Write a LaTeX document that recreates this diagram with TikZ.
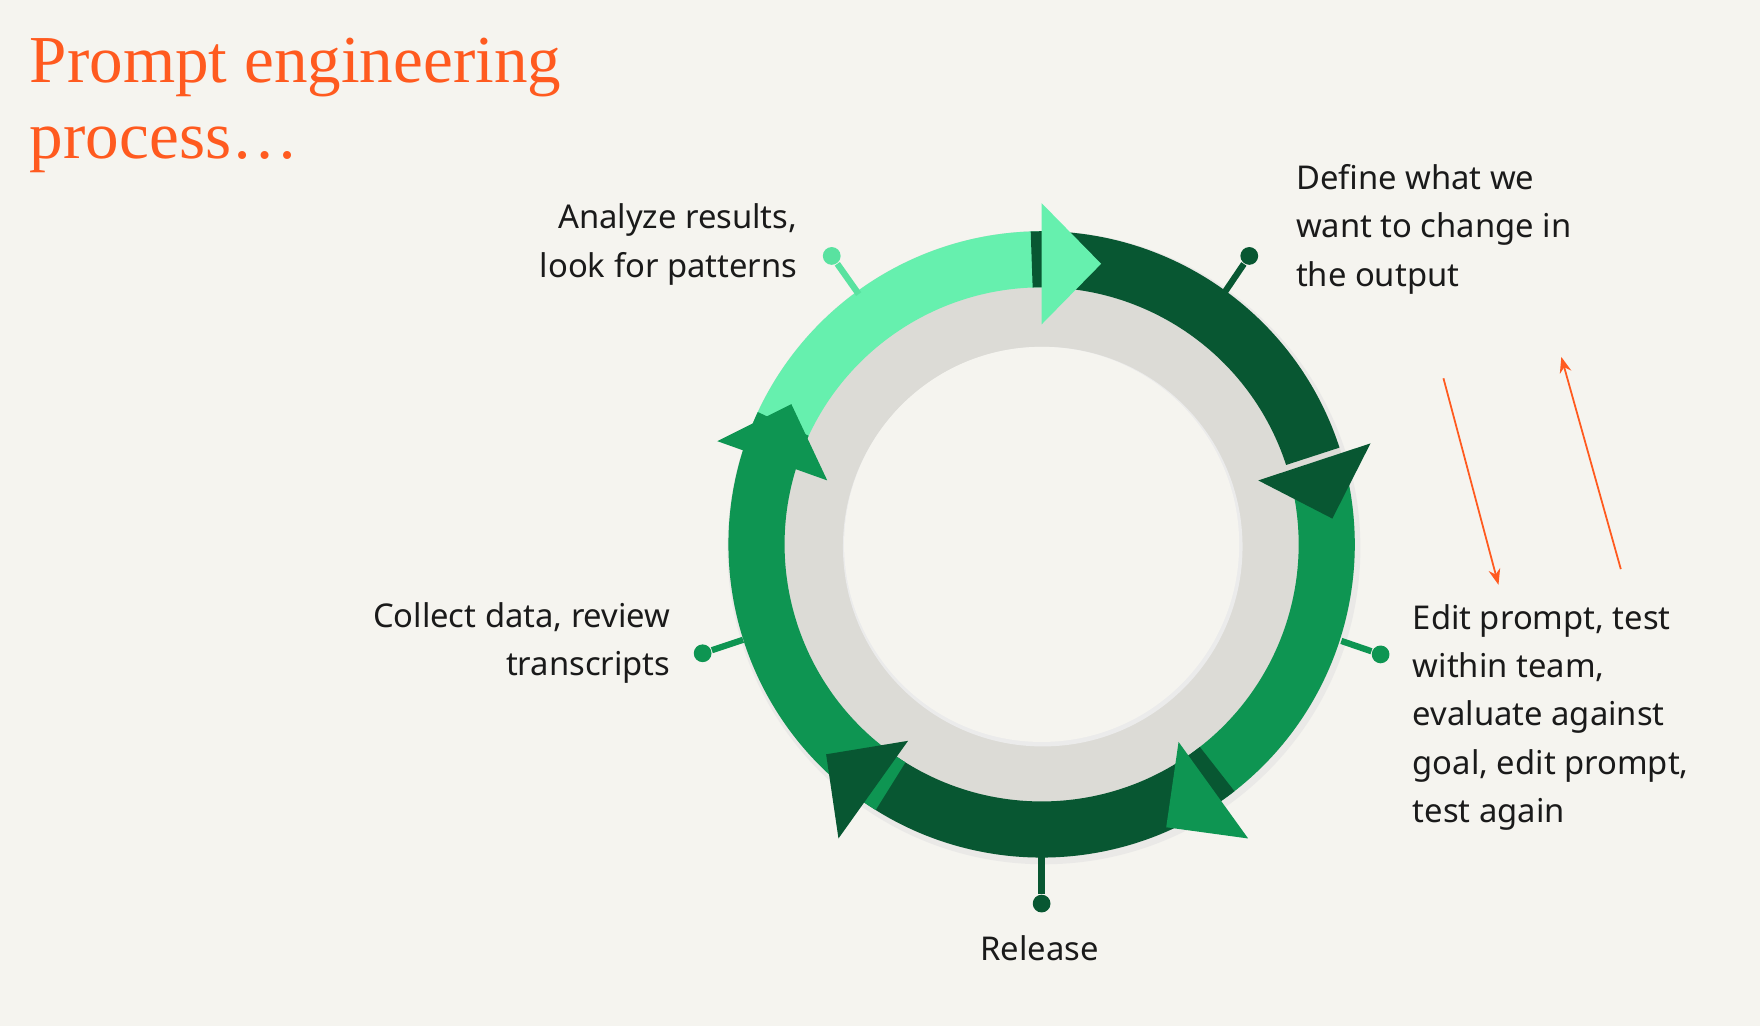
\documentclass[tikz,border=0pt]{standalone}
\usepackage{fontspec}
\setmainfont{Noto Sans}
\newfontfamily\titlefont{Liberation Serif}
\usetikzlibrary{arrows.meta}
\definecolor{bg}{HTML}{F5F4EF}
\definecolor{lightg}{HTML}{66F0AE}
\definecolor{darkg}{HTML}{085732}
\definecolor{medg}{HTML}{0E9552}
\definecolor{ringg}{HTML}{DCDBD6}
\definecolor{orng}{HTML}{FF5A1F}
\definecolor{txt}{HTML}{1A1A1A}
\newcommand{\myband}[3]{\fill[#1] (928,485) ++(-#2:279) arc[start angle=-#2,end angle=-#3,radius=279] -- ++(-#3:-50) arc[start angle=-#3,end angle=-#2,radius=229] -- cycle;}
\tikzset{lbl/.style={font=\fontsize{8.3}{12.2}\selectfont, text=txt, inner sep=0pt},
 dot/.style={circle,inner sep=0pt,minimum size=4.5pt},
 oarr/.style={draw=orng,line width=0.45pt,-{Stealth[length=4pt,width=3pt]}}}
\begin{document}
\begin{tikzpicture}[x=0.01cm,y=-0.01cm]
\useasboundingbox (0,0) rectangle (1568,914);
\fill[bg] (0,0) rectangle (1568,914);
\node[anchor=north west,inner sep=0pt,align=left,text=orng,font=\titlefont\fontsize{17}{19.2}\selectfont] (title) at (26,33) {Prompt engineering\\process…};
% ring
\fill[black!12,opacity=0.5] (930,488) circle (282);
\fill[ringg] (928,485) circle (279);
\fill[black!8] (929,487) circle (178);
\fill[bg] (928,485) circle (176);
% bands
\myband{lightg}{157}{90}
\myband{darkg}{92}{18}
\myband{medg}{12}{-57}
\myband{darkg}{-52}{-128}
\myband{medg}{-122}{-205}
% heads
\fill[darkg] (1121,428) -- (1221,395) -- (1187,462) -- cycle;
\fill[medg] (1050,661) -- (1112,747) -- (1039,737) -- cycle;
\fill[darkg] (809,660) -- (747,747) -- (736,672) -- cycle;
\fill[medg] (705,360) -- (737,428) -- (639,393) -- cycle;
\fill[lightg] (928,181) -- (981,235) -- (928,289) -- cycle;
% connectors
\node[dot,fill=darkg] (d1) at (1113,228) {};
\coordinate (r1) at (1090,262);
\draw[darkg,line width=1.6pt] (r1) -- (d1);
\node[dot,fill=medg] (d2) at (1230,583) {};
\coordinate (r2) at (1195,571);
\draw[medg,line width=1.6pt] (r2) -- (d2);
\node[dot,fill=darkg] (d3) at (928,805) {};
\coordinate (r3) at (928,762);
\draw[darkg,line width=1.6pt] (r3) -- (d3);
\node[dot,fill=medg] (d4) at (626,582) {};
\coordinate (r4) at (662,570);
\draw[medg,line width=1.6pt] (r4) -- (d4);
\node[dot,fill=lightg!85!medg] (d5) at (741,228) {};
\coordinate (r5) at (765,262);
\draw[lightg!85!medg,line width=1.6pt] (r5) -- (d5);
% labels
\node[lbl,anchor=north west,align=left] (t1) at (1154,146) {Define what we\\want to change in\\the output};
\node[lbl,anchor=north west,align=left] (t2) at (1258,538) {Edit prompt, test\\within team,\\evaluate against\\goal, edit prompt,\\test again};
\node[lbl,anchor=north] (t3) at (926,833) {Release};
\node[lbl,anchor=north east,align=right] (t4) at (598,536) {Collect data, review\\transcripts};
\node[lbl,anchor=north east,align=right] (t5) at (711,181) {Analyze results,\\look for patterns};
% orange arrows
\coordinate (o1) at (1286,337); \coordinate (o2) at (1335,521);
\coordinate (o3) at (1444,507); \coordinate (o4) at (1391,318);
\draw[oarr] (o1) -- (o2);
\draw[oarr] (o3) -- (o4);
\end{tikzpicture}
\end{document}
